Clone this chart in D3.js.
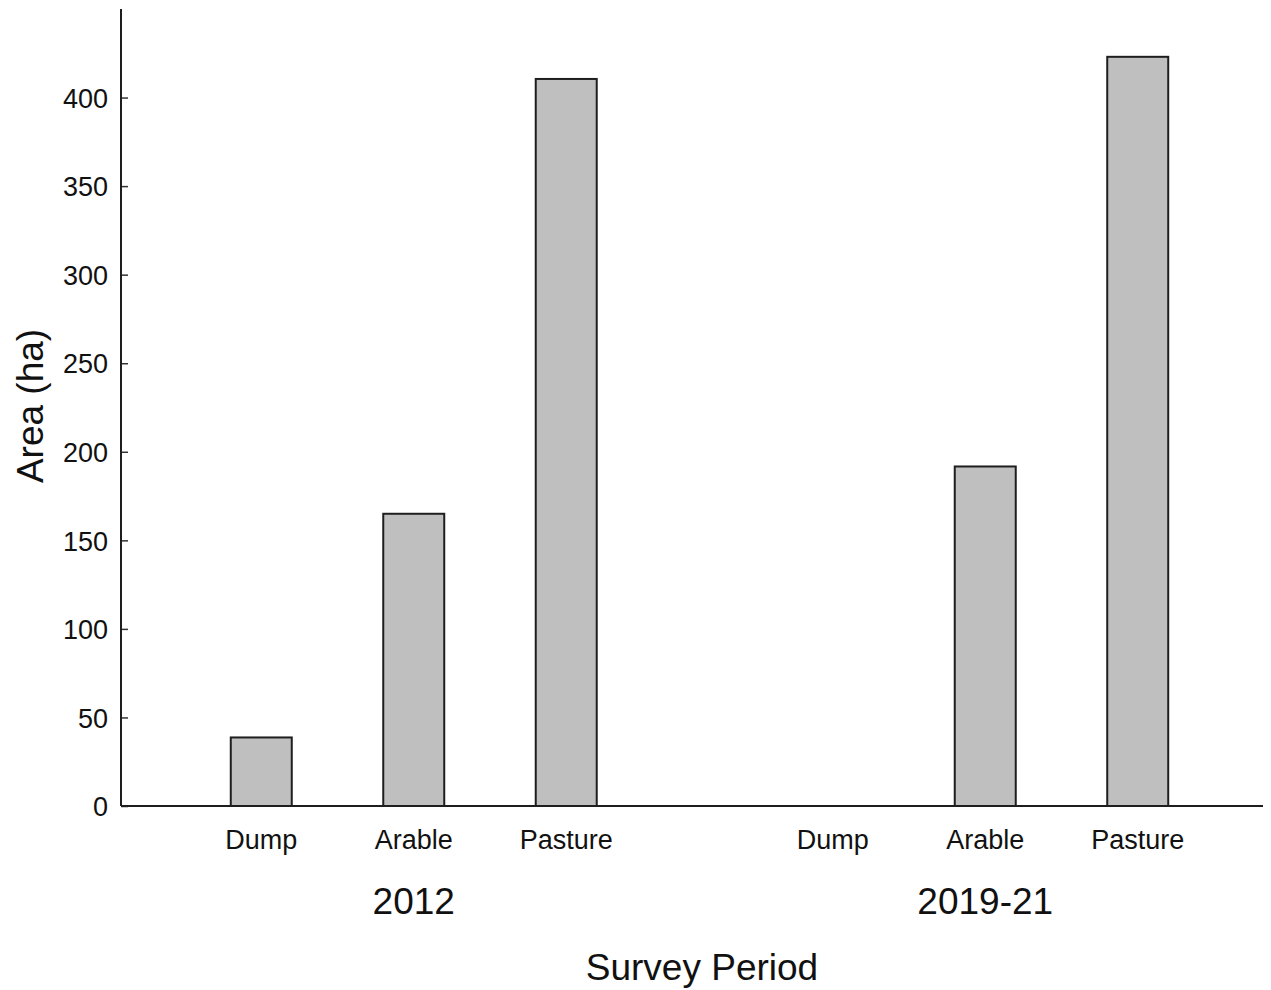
<!DOCTYPE html>
<html>
<head>
<meta charset="utf-8">
<script src="https://cdn.jsdelivr.net/npm/d3@7"></script>
<style>
  body { margin: 0; background: #fff; }
  text { font-family: "Liberation Sans", Arial, sans-serif; fill: #111; }
</style>
</head>
<body>
<div class="svg_container"></div>
<script>
// data
var periods = ["2012", "2019-21"];
var categories = ["Dump", "Arable", "Pasture"];
var area2012 = [38.7, 165, 410.5];
var area2019 = [0, 191.7, 423];
var yTicks = [0, 50, 100, 150, 200, 250, 300, 350, 400];

var W = 1271, H = 990;
var x0 = 121, xEnd = 1263, yBase = 806, yTop = 9;

var svg = d3.select(".svg_container").append("svg")
  .attr("width", W)
  .attr("height", H);

// scales
var y = d3.scaleLinear().domain([0, 450]).range([yBase, yTop]);
var xGroup = d3.scaleBand().domain(periods).range([128, 1271]);
var xCat = d3.scaleBand().domain(categories)
  .range([0, xGroup.bandwidth()])
  .paddingInner(0.6)
  .paddingOuter(0.674);

var rows = [];
periods.forEach(function(p, i) {
  var vals = i === 0 ? area2012 : area2019;
  categories.forEach(function(c, j) {
    rows.push({ period: p, cat: c, value: vals[j] });
  });
});

// bars
svg.selectAll(".bar")
  .data(rows.filter(function(d) { return d.value > 0; }))
  .enter().append("rect")
  .attr("class", "bar")
  .attr("x", function(d) { return xGroup(d.period) + xCat(d.cat); })
  .attr("width", xCat.bandwidth())
  .attr("y", function(d) { return y(d.value); })
  .attr("height", function(d) { return yBase - y(d.value); })
  .attr("fill", "#bfbfbf")
  .attr("stroke", "#1e1e1e")
  .attr("stroke-width", 2);

// y axis, ticks point inward
var yAxis = svg.append("g")
  .attr("transform", "translate(" + x0 + ",0)")
  .call(d3.axisRight(y).tickValues(yTicks).tickSize(7).tickSizeOuter(0));
yAxis.select(".domain").remove();
yAxis.selectAll(".tick line").attr("stroke", "#333").attr("stroke-width", 1.5);
yAxis.selectAll(".tick text")
  .attr("x", -13)
  .attr("text-anchor", "end")
  .attr("dy", "0.36em")
  .style("font-size", "27px")
  .style("font-family", "'Liberation Sans', Arial, sans-serif")
  .attr("fill", "#111");

// axis lines
svg.append("line")
  .attr("x1", x0).attr("x2", x0)
  .attr("y1", yTop).attr("y2", yBase)
  .attr("stroke", "#1e1e1e").attr("stroke-width", 2);
svg.append("line")
  .attr("x1", x0).attr("x2", xEnd)
  .attr("y1", yBase).attr("y2", yBase)
  .attr("stroke", "#1e1e1e").attr("stroke-width", 2);

// category labels
svg.selectAll(".catlabel")
  .data(rows)
  .enter().append("text")
  .attr("class", "catlabel")
  .attr("x", function(d) { return xGroup(d.period) + xCat(d.cat) + xCat.bandwidth() / 2; })
  .attr("y", 849)
  .attr("text-anchor", "middle")
  .style("font-size", "27px")
  .text(function(d) { return d.cat; });

// period labels
svg.selectAll(".periodlabel")
  .data(periods)
  .enter().append("text")
  .attr("class", "periodlabel")
  .attr("x", function(d) { return xGroup(d) + xGroup.bandwidth() / 2; })
  .attr("y", 914)
  .attr("text-anchor", "middle")
  .style("font-size", "37px")
  .text(function(d) { return d; });

// axis titles
svg.append("text")
  .attr("x", 702)
  .attr("y", 980)
  .attr("text-anchor", "middle")
  .style("font-size", "37px")
  .text("Survey Period");

svg.append("text")
  .attr("transform", "translate(43,406) rotate(-90)")
  .attr("text-anchor", "middle")
  .style("font-size", "37px")
  .text("Area (ha)");
</script>
</body>
</html>
